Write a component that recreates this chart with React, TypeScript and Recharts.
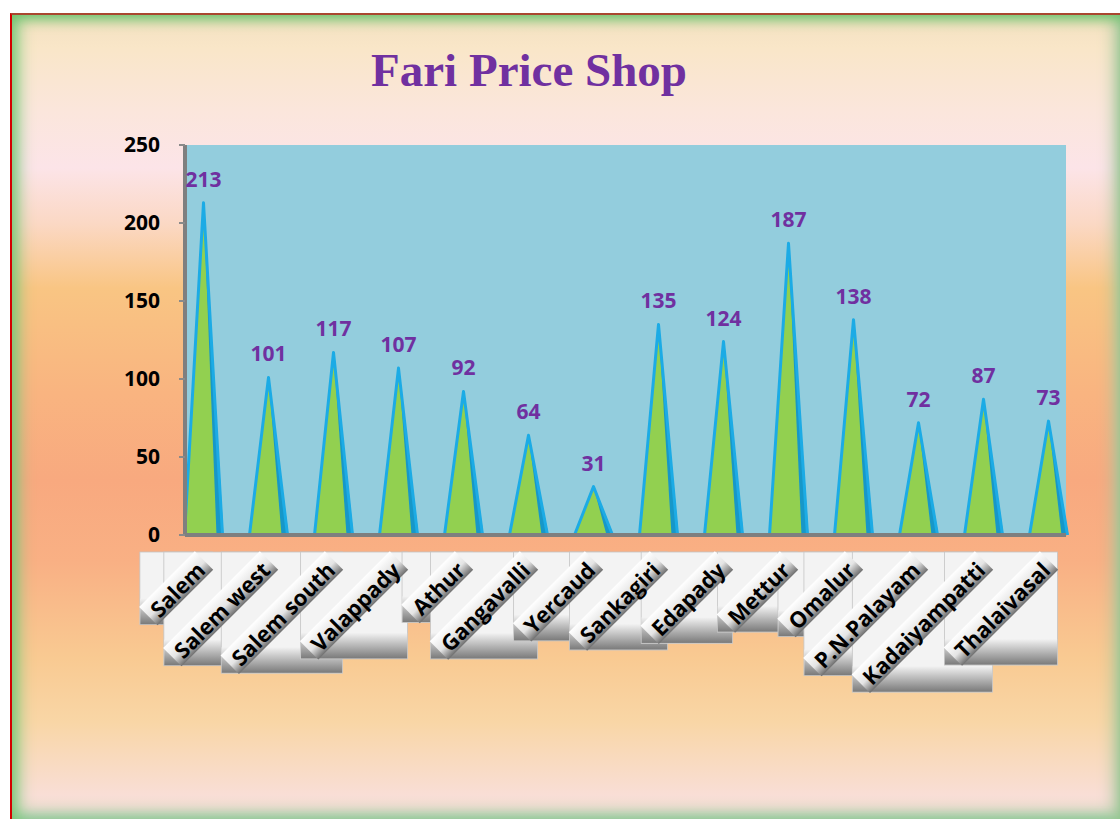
import { BarChart, Bar, XAxis, YAxis, CartesianGrid, LabelList } from 'recharts'

const shopNames = [
  'Salem',
  'Salem west',
  'Salem south',
  'Valappady',
  'Athur',
  'Gangavalli',
  'Yercaud',
  'Sankagiri',
  'Edapady',
  'Mettur',
  'Omalur',
  'P.N.Palayam',
  'Kadaiyampatti',
  'Thalaivasal',
]
const shopCounts = [213, 101, 117, 107, 92, 64, 31, 135, 124, 187, 138, 72, 87, 73]
const yTicks = [0, 50, 100, 150, 200, 250]

const data = shopNames.map((name, i) => ({ name, shops: shopCounts[i] }))

const sans = '"Open Sans", "DejaVu Sans", sans-serif'

let ctx: CanvasRenderingContext2D | null = null
function textWidth(t: string) {
  if (!ctx) ctx = document.createElement('canvas').getContext('2d')
  if (!ctx) return t.length * 12
  ctx.font = 'bold 22px "Open Sans"'
  return ctx.measureText(t).width
}

// square box around a 45deg label: right edge a bit past the tick, side from text length
function tickBox(x: number, y: number, label: string) {
  const w = textWidth(label)
  const s = (w + 36) / Math.SQRT2
  const left = x + 9.5 - s
  return { w, s, left, top: y, cx: left + s / 2, cy: y + s / 2 }
}

// green pyramid with a blue rim, darker on the right face
function Cone(props: any) {
  const { x, y, width, height } = props
  if (!height || height <= 0) return null
  const cx = x + width / 2
  const base = y + height
  return (
    <g>
      <polygon points={`${x},${base} ${cx},${y} ${x + width},${base}`} fill="#92D050" />
      <polygon points={`${cx},${y} ${x + width + 1},${base} ${x + width - 6},${base}`} fill="#1797C8" />
      <path
        d={`M${x},${base} L${cx},${y} L${x + width},${base}`}
        fill="none"
        stroke="#1CABE5"
        strokeWidth={3}
        strokeLinejoin="round"
      />
    </g>
  )
}

function BoxTick(props: any) {
  const { x, y, payload } = props
  const b = tickBox(x, y, String(payload.value))
  return (
    <g>
      <defs>
        <linearGradient id="boxShade" x1="0" y1="0" x2="0" y2="1">
          <stop offset="0%" stopColor="#f2f2f2" />
          <stop offset="100%" stopColor="#7a7a7a" />
        </linearGradient>
      </defs>
      <rect x={b.left} y={b.top} width={b.s} height={b.s} fill="#f3f3f3" stroke="#c4c4c4" strokeWidth={0.8} />
      <rect x={b.left + 0.4} y={b.top + b.s - 26} width={b.s - 0.8} height={25.6} fill="url(#boxShade)" />
    </g>
  )
}

function TextTick(props: any) {
  const { x, y, payload } = props
  const label = String(payload.value)
  const b = tickBox(x, y, label)
  const rl = b.w + 12
  return (
    <g transform={`rotate(-45 ${b.cx} ${b.cy})`}>
      <defs>
        <linearGradient id="ribbon" x1="0" y1="0" x2="0" y2="1">
          <stop offset="0%" stopColor="#ffffff" />
          <stop offset="55%" stopColor="#e4e4e4" />
          <stop offset="100%" stopColor="#6f6f6f" />
        </linearGradient>
      </defs>
      <rect x={b.cx - rl / 2} y={b.cy - 13} width={rl} height={26} fill="url(#ribbon)" />
      <text
        x={b.cx}
        y={b.cy + 1}
        textAnchor="middle"
        dominantBaseline="central"
        fill="#000"
        fontFamily={sans}
        fontWeight={700}
        fontSize={22}
      >
        {label}
      </text>
    </g>
  )
}

export default function App() {
  return (
    <div
      style={{
        position: 'absolute',
        left: 10,
        top: 13,
        width: 1110,
        height: 806,
        boxSizing: 'border-box',
        borderTop: '2px solid #a9472f',
        borderLeft: '2px solid #d40000',
        background:
          'linear-gradient(to bottom, #f3e0c0 0%, #f9e6c8 4%, #fbe6dc 12%, #fce4e8 19%, #fbd8c4 26%, #f9c583 34%, #f9b480 47%, #f8a97f 58%, #f9b084 68%, #f9ca92 80%, #f9d6a6 88%, #f9ded6 97%, #e6dccc 100%)',
        boxShadow:
          'inset 0 10px 14px -6px #6cc36c, inset 12px 0 16px -6px #7cc97c, inset -12px 0 16px -6px #a8c8a0, inset 0 -10px 14px -6px #8cc9a0',
        overflow: 'hidden',
      }}
    >
      <div
        style={{
          position: 'absolute',
          left: 217,
          top: 32,
          width: 600,
          textAlign: 'center',
          fontFamily: '"Liberation Serif", "Times New Roman", serif',
          fontWeight: 700,
          fontSize: 47,
          lineHeight: '47px',
          color: '#7030A0',
        }}
      >
        Fari Price Shop
      </div>
      <div style={{ position: 'absolute', left: -2, top: -2 }}>
        <BarChart width={1110} height={806} data={data} margin={{ top: 132, right: 54, left: 95, bottom: 134 }}>
          <CartesianGrid fill="#93CDDD" fillOpacity={1} horizontal={false} vertical={false} />
          <XAxis
            dataKey="name"
            interval={0}
            height={17}
            padding={{ left: -14.5, right: -14.5 }}
            axisLine={{ stroke: '#7f7f7f', strokeWidth: 4 }}
            tickLine={false}
            tickSize={0}
            tickMargin={17}
            tick={<BoxTick />}
          />
          <XAxis
            xAxisId="labels"
            dataKey="name"
            interval={0}
            height={133}
            padding={{ left: -14.5, right: -14.5 }}
            axisLine={false}
            tickLine={false}
            tickSize={0}
            tickMargin={0}
            tick={<TextTick />}
          />
          <YAxis
            width={80}
            domain={[0, 250]}
            ticks={yTicks}
            interval={0}
            axisLine={{ stroke: '#7f7f7f', strokeWidth: 4 }}
            tickLine={{ stroke: '#8a8a8a', strokeWidth: 2 }}
            tickSize={6}
            tickMargin={19}
            tick={{ fill: '#000', fontSize: 21, fontWeight: 700, fontFamily: sans }}
          />
          <Bar dataKey="shops" barSize={38} shape={<Cone />} isAnimationActive={false}>
            <LabelList
              dataKey="shops"
              position="top"
              offset={16}
              fill="#7030A0"
              fontSize={21}
              fontWeight={700}
              fontFamily={sans}
            />
          </Bar>
        </BarChart>
      </div>
    </div>
  )
}
